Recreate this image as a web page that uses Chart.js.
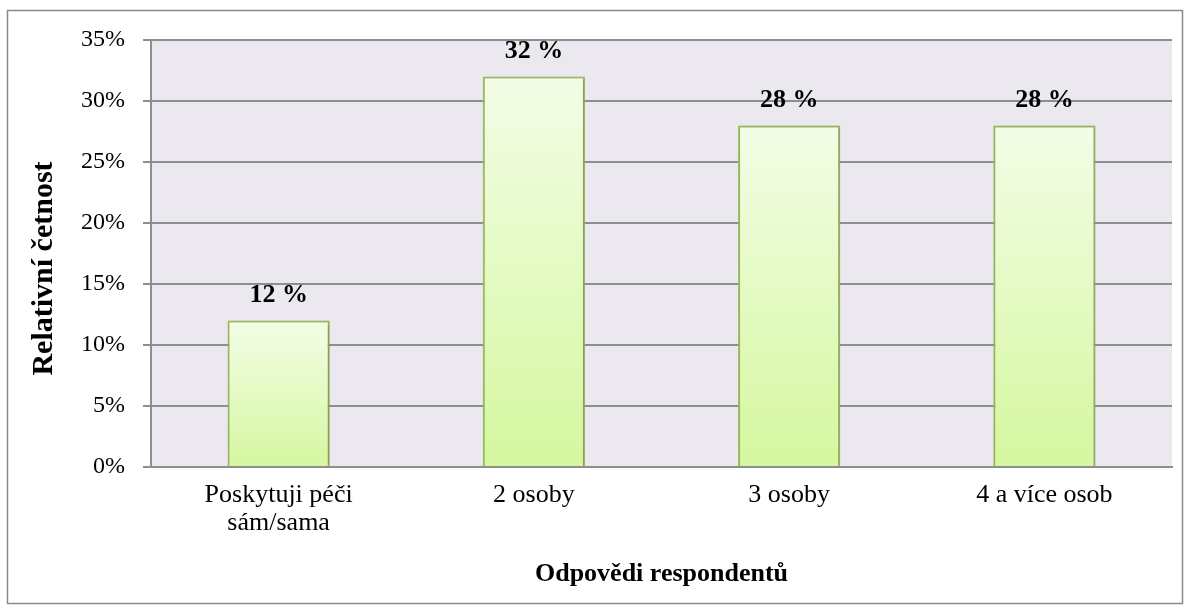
<!DOCTYPE html>
<html>
<head>
<meta charset="utf-8">
<script src="https://cdn.jsdelivr.net/npm/chart.js@4"></script>
<style>
  html, body { margin: 0; padding: 0; background: #fff; }
  #wrap { width: 1190px; height: 610px; }
</style>
</head>
<body>
<div id="wrap"><canvas id="graf"></canvas></div>
<script>
// data
const kategorie = [['Poskytuji péči', 'sám/sama'], '2 osoby', '3 osoby', '4 a více osob'];
const hodnoty = [12, 32, 28, 28];
const popisky = ['12 %', '32 %', '28 %', '28 %'];
const osaY = { min: 0, max: 35, krok: 5 };

const serif = "'Liberation Serif', 'Times New Roman', serif";

// pozadí plochy grafu + rámeček kolem celého obrázku
const pozadi = {
    id: 'pozadi',
    beforeDraw(chart) {
        const { ctx, chartArea: a } = chart;
        ctx.save();
        ctx.fillStyle = '#ebe9ef';
        ctx.fillRect(a.left, a.top, a.right - a.left, a.bottom - a.top);
        ctx.strokeStyle = '#8a8a8a';
        ctx.lineWidth = 1.5;
        ctx.strokeRect(7.5, 10.5, 1175, 593);
        ctx.restore();
    }
};

// popisky hodnot nad sloupci
const hodnotyNad = {
    id: 'hodnotyNad',
    afterDatasetsDraw(chart) {
        const { ctx } = chart;
        const meta = chart.getDatasetMeta(0);
        ctx.save();
        ctx.font = 'bold 26px ' + serif;
        ctx.fillStyle = '#000';
        ctx.textAlign = 'center';
        ctx.textBaseline = 'middle';
        meta.data.forEach((bar, i) => {
            ctx.fillText(popisky[i], bar.x, bar.y - 25);
        });
        ctx.restore();
    }
};

// svislý popis osy Y kreslený ručně (v originále je posunutý níž)
const popisOsyY = {
    id: 'popisOsyY',
    afterDraw(chart) {
        const { ctx, chartArea: a } = chart;
        ctx.save();
        ctx.translate(44, (a.top + a.bottom) / 2 + 15);
        ctx.rotate(-Math.PI / 2);
        ctx.font = 'bold 30px ' + serif;
        ctx.fillStyle = '#000';
        ctx.textAlign = 'center';
        ctx.textBaseline = 'middle';
        ctx.fillText('Relativní četnost', 0, 0);
        ctx.restore();
    }
};

// jemný stín sloupců
const stin = {
    id: 'stin',
    beforeDatasetsDraw(chart) {
        chart.ctx.save();
        chart.ctx.shadowColor = 'rgba(0,0,0,0.25)';
        chart.ctx.shadowBlur = 3;
        chart.ctx.shadowOffsetX = 1;
        chart.ctx.shadowOffsetY = 1;
    },
    afterDatasetsDraw(chart) {
        chart.ctx.restore();
    }
};

function prechod(context) {
    const chart = context.chart;
    if (!chart.chartArea) return '#e2f9bd';
    const y = chart.scales.y;
    const top = y.getPixelForValue(hodnoty[context.dataIndex]);
    const bottom = y.getPixelForValue(0);
    const g = chart.ctx.createLinearGradient(0, top, 0, bottom);
    g.addColorStop(0, '#f3fde6');
    g.addColorStop(1, '#d5f79f');
    return g;
}

new Chart(document.getElementById('graf'), {
    type: 'bar',
    data: {
        labels: kategorie,
        datasets: [{
            data: hodnoty,
            backgroundColor: prechod,
            borderColor: '#9bbb59',
            borderWidth: 2,
            barPercentage: 0.4,
            categoryPercentage: 1
        }]
    },
    options: {
        responsive: true,
        maintainAspectRatio: false,
        animation: false,
        layout: { padding: { top: 40, right: 18, bottom: 14, left: 0 } },
        plugins: {
            legend: { display: false },
            tooltip: { enabled: false }
        },
        scales: {
            x: {
                grid: { display: false },
                border: { display: true, color: '#8e8e8e', width: 2 },
                ticks: {
                    color: '#000',
                    font: { family: serif, size: 26, lineHeight: 1.08 },
                    padding: 6,
                    maxRotation: 0
                },
                title: {
                    display: true,
                    text: 'Odpovědi respondentů',
                    color: '#000',
                    font: { family: serif, size: 26, weight: 'bold' },
                    padding: { top: 0, bottom: 6 }
                },
                afterFit(scale) { scale.height = 129; }
            },
            y: {
                min: osaY.min,
                max: osaY.max,
                ticks: {
                    stepSize: osaY.krok,
                    color: '#000',
                    font: { family: serif, size: 24 },
                    padding: 18,
                    callback: v => v + '%'
                },
                grid: { color: '#8e8e8e', lineWidth: 2, tickLength: 8 },
                border: { display: true, color: '#8e8e8e', width: 2 },
                afterFit(scale) { scale.width = 151; }
            }
        }
    },
    plugins: [pozadi, stin, hodnotyNad, popisOsyY]
});
</script>
</body>
</html>
